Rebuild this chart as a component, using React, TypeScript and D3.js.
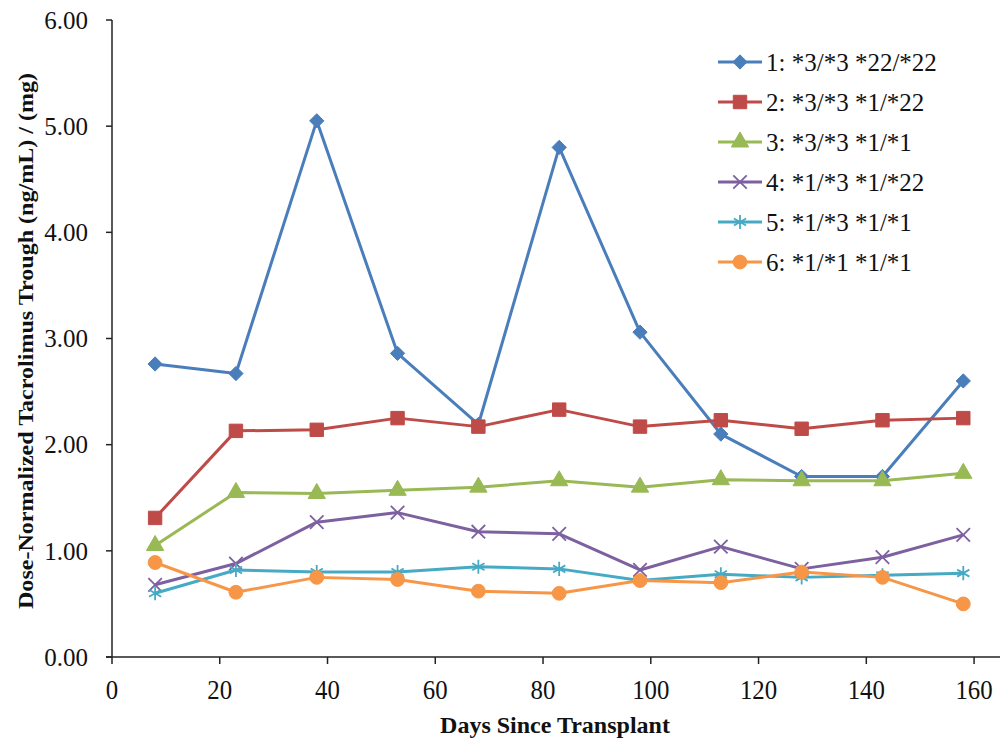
import React from "react";
import * as d3 from "d3";

// Days since transplant for each measurement
const days = [8, 23, 38, 53, 68, 83, 98, 113, 128, 143, 158];

// Dose-normalized trough values per genotype group
const group1 = [2.76, 2.67, 5.05, 2.86, 2.19, 4.8, 3.06, 2.1, 1.7, 1.7, 2.6];
const group2 = [1.31, 2.13, 2.14, 2.25, 2.17, 2.33, 2.17, 2.23, 2.15, 2.23, 2.25];
const group3 = [1.05, 1.55, 1.54, 1.57, 1.6, 1.66, 1.6, 1.67, 1.66, 1.66, 1.73];
const group4 = [0.68, 0.88, 1.27, 1.36, 1.18, 1.16, 0.82, 1.04, 0.83, 0.94, 1.15];
const group5 = [0.6, 0.82, 0.8, 0.8, 0.85, 0.83, 0.72, 0.78, 0.75, 0.77, 0.79];
const group6 = [0.89, 0.61, 0.75, 0.73, 0.62, 0.6, 0.72, 0.7, 0.8, 0.75, 0.5];

const labels = [
  "1: *3/*3 *22/*22",
  "2: *3/*3 *1/*22",
  "3: *3/*3 *1/*1",
  "4: *1/*3 *1/*22",
  "5: *1/*3 *1/*1",
  "6: *1/*1 *1/*1",
];

const xTicks = [0, 20, 40, 60, 80, 100, 120, 140, 160];
const yTicks = [0, 1, 2, 3, 4, 5, 6];

const colors = ["#4a7ebb", "#be4b48", "#98b954", "#7d60a0", "#46aac5", "#f79646"];

// marker type per series
const markers = [
  { type: d3.symbolDiamond2, size: 130, fill: true },
  { type: d3.symbolSquare, size: 180, fill: true },
  { type: d3.symbolTriangle, size: 130, fill: true },
  { type: d3.symbolX, size: 120, fill: false },
  { type: d3.symbolAsterisk, size: 140, fill: false },
  { type: d3.symbolCircle, size: 150, fill: true },
];

const series = [group1, group2, group3, group4, group5, group6];

const width = 1000;
const height = 739;
const font = "'Liberation Serif', 'Times New Roman', serif";

export default function App() {
  const x = d3.scaleLinear().domain([0, 165]).range([112, 1001]);
  const y = d3.scaleLinear().domain([0, 6]).range([657, 20]);

  const line = d3
    .line<number>()
    .x((_, i) => x(days[i]))
    .y((d) => y(d));

  const sym = (i: number) => d3.symbol().type(markers[i].type).size(markers[i].size)() || "";

  const markerEl = (i: number, cx: number, cy: number, key: string) => (
    <path
      key={key}
      d={sym(i)}
      transform={`translate(${cx},${cy})`}
      fill={markers[i].fill ? colors[i] : "none"}
      stroke={colors[i]}
      strokeWidth={markers[i].fill ? 1 : 1.8}
    />
  );

  return (
    <div style={{ position: "absolute", left: 0, top: 0 }}>
      <svg width={width} height={height} style={{ display: "block", background: "#fff" }}>
        {/* y axis */}
        <line x1={x(0)} x2={x(0)} y1={y(6)} y2={y(0)} stroke="#222" strokeWidth={1.5} />
        {yTicks.map((t) => (
          <g key={"y" + t}>
            <line x1={x(0) - 6} x2={x(0)} y1={y(t)} y2={y(t)} stroke="#222" strokeWidth={1.5} />
            <text
              x={88}
              y={y(t)}
              dy="0.35em"
              textAnchor="end"
              fontFamily={font}
              fontSize={25}
              fill="#111"
            >
              {t.toFixed(2)}
            </text>
          </g>
        ))}
        {/* x axis */}
        <line x1={x(0) - 6} x2={width} y1={y(0)} y2={y(0)} stroke="#222" strokeWidth={1.5} />
        {xTicks.map((t) => (
          <g key={"x" + t}>
            <line x1={x(t)} x2={x(t)} y1={y(0)} y2={y(0) + 7} stroke="#222" strokeWidth={1.5} />
            <text
              transform={`translate(${x(t)},${699}) scale(0.92,1)`}
              textAnchor="middle"
              fontFamily={font}
              fontSize={27}
              fill="#111"
            >
              {t}
            </text>
          </g>
        ))}
        <text
          x={555}
          y={733}
          textAnchor="middle"
          fontFamily={font}
          fontWeight="bold"
          fontSize={24}
          fill="#111"
        >
          Days Since Transplant
        </text>
        <text
          transform={`translate(33,${341}) rotate(-90)`}
          textAnchor="middle"
          fontFamily={font}
          fontWeight="bold"
          fontSize={21}
          textLength={536}
          lengthAdjust="spacingAndGlyphs"
          fill="#111"
        >
          Dose-Normalized Tacrolimus Trough (ng/mL) / (mg)
        </text>

        {/* series */}
        {series.map((s, i) => (
          <g key={"s" + i}>
            <path d={line(s) || ""} fill="none" stroke={colors[i]} strokeWidth={3} strokeLinejoin="round" />
            {s.map((v, j) => markerEl(i, x(days[j]), y(v), `m${i}-${j}`))}
          </g>
        ))}

        {/* legend */}
        {labels.map((lab, i) => {
          const ly = 62 + i * 40;
          return (
            <g key={"l" + i}>
              <line x1={718} x2={762} y1={ly} y2={ly} stroke={colors[i]} strokeWidth={3} />
              {markerEl(i, 740, ly, "lm" + i)}
              <text x={766} y={ly} dy="0.35em" fontFamily={font} fontSize={25} fill="#111">
                {lab}
              </text>
            </g>
          );
        })}
      </svg>
    </div>
  );
}
